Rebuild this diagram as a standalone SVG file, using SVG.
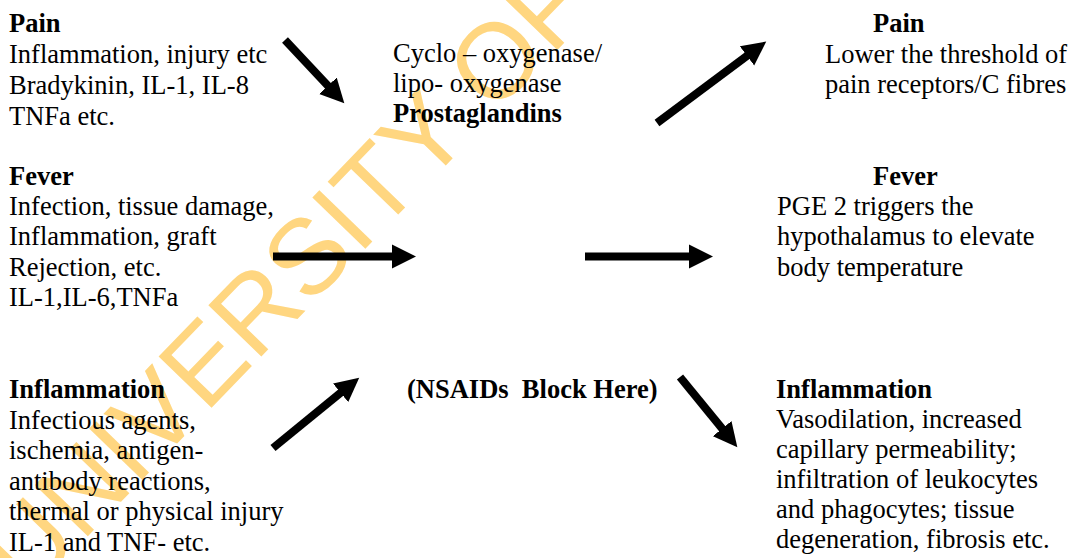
<svg xmlns="http://www.w3.org/2000/svg" width="1070" height="558" viewBox="0 0 1070 558">
  <style>
    text { font-family: "Liberation Serif", "Times New Roman", serif; font-size: 26.5px; fill: #000; }
    .b { font-weight: bold; }
    .wm { font-family: "Liberation Sans", Arial, sans-serif; font-size: 107px; fill: #FFD680; }
    .arrow { stroke: #000; stroke-width: 8; fill: none; marker-end: url(#head); }
  </style>
  <defs>
    <marker id="head" markerUnits="userSpaceOnUse" markerWidth="26" markerHeight="26" viewBox="0 -13 26 26" refX="1" refY="0" orient="auto">
      <path d="M0,-12 L24,0 L0,12 Z" fill="#000"/>
    </marker>
  </defs>
  <rect width="1070" height="558" fill="#fff"/>

  <!-- watermark -->
  <text class="wm" transform="translate(28,598) rotate(-46)">UNIVERSITY OF</text>

  <!-- connectors -->
  <g id="connectors">
    <path class="arrow" d="M285,40 L328.6,86.5"/>
    <path class="arrow" d="M657,123 L747.8,55.3"/>
    <path class="arrow" d="M273,256.5 L393,256.5"/>
    <path class="arrow" d="M585,256.5 L690,256.5"/>
    <path class="arrow" d="M273,448 L341.4,392.2"/>
    <path class="arrow" d="M680,377 L722.8,429.4"/>
  </g>

  <g id="pain-causes">
    <text x="9" y="32" class="b">Pain</text>
    <text x="9" y="63">Inflammation, injury etc</text>
    <text x="9" y="94">Bradykinin, IL-1, IL-8</text>
    <text x="9" y="125">TNFa etc.</text>
  </g>

  <g id="enzymes">
    <text x="393" y="62">Cyclo – oxygenase/</text>
    <text x="393" y="92">lipo- oxygenase</text>
    <text x="393" y="122" class="b">Prostaglandins</text>
  </g>

  <g id="pain-effect">
    <text x="873" y="32" class="b">Pain</text>
    <text x="825" y="63">Lower the threshold of</text>
    <text x="825" y="93">pain receptors/C fibres</text>
  </g>

  <g id="fever-causes">
    <text x="9" y="185" class="b">Fever</text>
    <text x="9" y="215">Infection, tissue damage,</text>
    <text x="9" y="245">Inflammation, graft</text>
    <text x="9" y="276">Rejection, etc.</text>
    <text x="9" y="306">IL-1,IL-6,TNFa</text>
  </g>

  <g id="fever-effect">
    <text x="873" y="185" class="b">Fever</text>
    <text x="777" y="215">PGE 2 triggers the</text>
    <text x="777" y="245">hypothalamus to elevate</text>
    <text x="777" y="276">body temperature</text>
  </g>

  <g id="inflammation-causes">
    <text x="9" y="398" class="b">Inflammation</text>
    <text x="9" y="429">Infectious agents,</text>
    <text x="9" y="459">ischemia, antigen-</text>
    <text x="9" y="490">antibody reactions,</text>
    <text x="9" y="520">thermal or physical injury</text>
    <text x="9" y="551">IL-1 and TNF- etc.</text>
  </g>

  <g id="nsaids">
    <text x="407" y="398" class="b" xml:space="preserve">(NSAIDs  Block Here)</text>
  </g>

  <g id="inflammation-effect">
    <text x="776" y="398" class="b">Inflammation</text>
    <text x="776" y="428">Vasodilation, increased</text>
    <text x="776" y="458">capillary permeability;</text>
    <text x="776" y="488">infiltration of leukocytes</text>
    <text x="776" y="518">and phagocytes; tissue</text>
    <text x="776" y="548">degeneration, fibrosis etc.</text>
  </g>
</svg>
